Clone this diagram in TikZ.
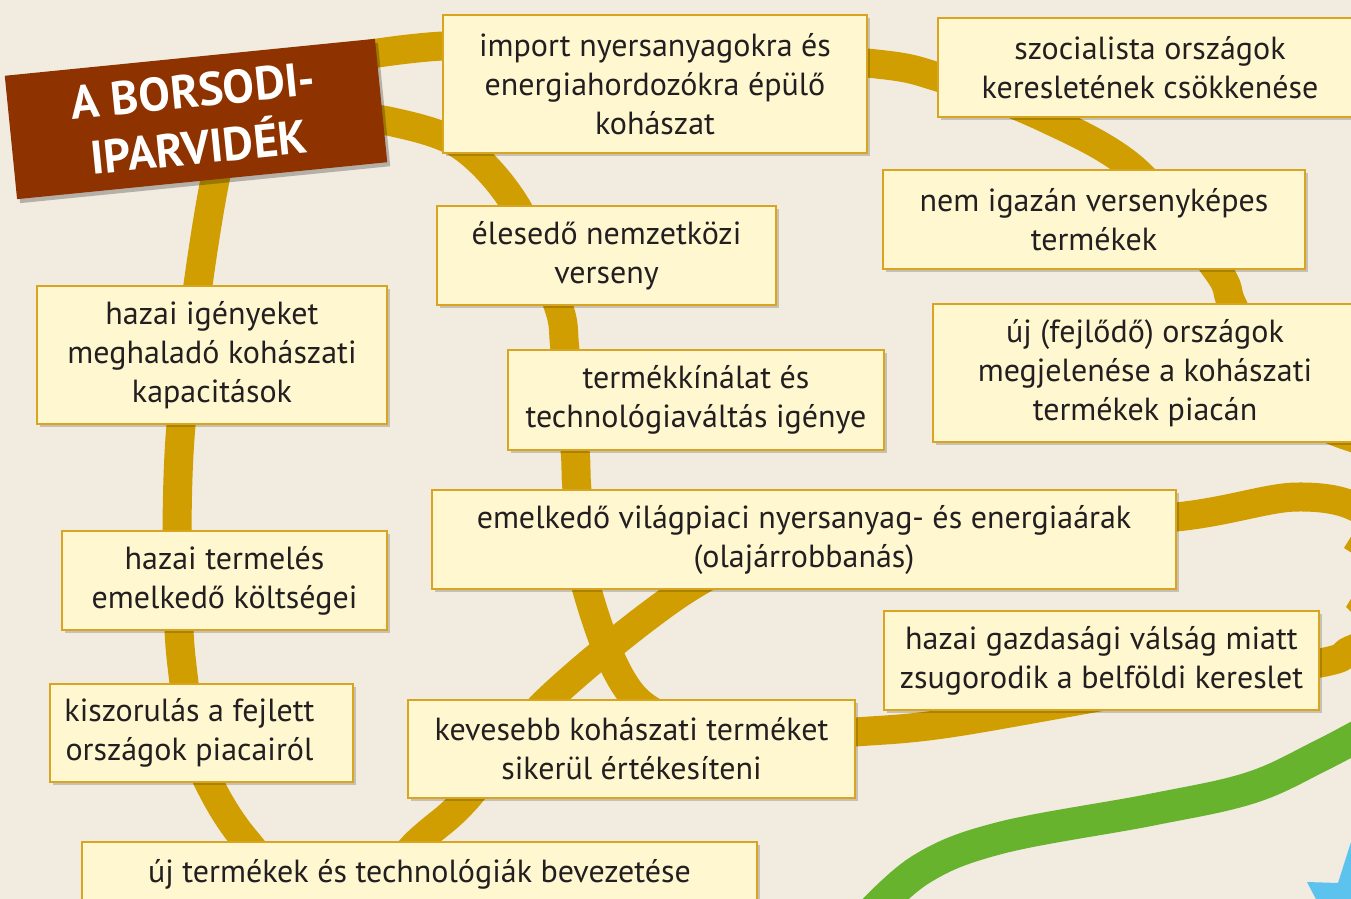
\documentclass[tikz,border=0pt]{standalone}
\usepackage{fontspec}
\setmainfont{PT Sans}
\usetikzlibrary{positioning,shadows}
\definecolor{bgcol}{RGB}{242,235,223}
\definecolor{cardfill}{RGB}{255,247,208}
\definecolor{cardline}{RGB}{217,165,33}
\definecolor{bandcol}{RGB}{208,158,0}
\definecolor{greencol}{RGB}{103,179,46}
\definecolor{bluecol}{RGB}{92,194,238}
\definecolor{titlecol}{RGB}{142,51,0}
\definecolor{inkcol}{RGB}{35,31,32}
\tikzset{dcard/.style={draw=cardline, line width=0.8pt, fill=cardfill, align=center, inner sep=2pt,
  text=inkcol, font=\fontsize{16}{19.5}\selectfont,
  drop shadow={shadow xshift=1.5pt, shadow yshift=-1.5pt, opacity=0.18, fill=black}}}
\tikzset{dband/.style={draw=bandcol, line width=14.5pt}}
\tikzset{dtitle/.style={fill=titlecol, text=white, align=center, minimum width=186pt, minimum height=62pt,
  inner sep=1pt, font=\fontsize{23.5}{28.5}\selectfont\bfseries,
  drop shadow={shadow xshift=1.5pt, shadow yshift=-2pt, opacity=0.25, fill=black}}}
\begin{document}
\begin{tikzpicture}[x=0.5pt, y=-0.5pt]
	\useasboundingbox (0,0) rectangle (1351,899);
	\clip (0,0) rectangle (1351,899);
	\fill[bgcol] (0,0) rectangle (1351,899);
	% ribbons under the cards
	\draw[dband] plot[smooth, tension=0.55] coordinates {(300,66) (443,46) (655,48) (867,63) (938,77)
		(1043,117) (1135,170) (1217,270) (1232,304) (1265,370) (1315,420) (1360,440) (1420,455)};
	\draw[dband] plot[smooth, tension=0.55] coordinates {(330,116) (388,121) (460,145) (516,206) (558,305)
		(565,350) (575,450) (577,490) (587,590) (637,700) (740,738) (855,732) (950,723) (1140,690)
		(1320,663) (1351,650) (1400,630)};
	\draw[dband] plot[smooth, tension=0.55] coordinates {(1410,590) (1368,515) (1297,497) (1176,517)
		(950,532) (780,552) (685,590) (548,700) (465,800) (418,842) (330,925) (247,842) (209,783)
		(190,730) (184,683) (179,630) (177,530) (181,425) (198,285) (215,180) (235,100)};
	\fill[bandcol] (1344,548) -- (1352,535) -- (1352,553) -- cycle;
	\fill[bandcol] (1346,607) -- (1352,597) -- (1352,613) -- cycle;
	\draw[greencol, line width=16pt] plot[smooth, tension=0.6] coordinates {(860,925) (920,870) (1000,838)
		(1150,810) (1250,788) (1320,756) (1380,724)};
	\fill[bluecol] (1360,842) -- (1351,842) -- (1338,883) -- (1307,882) -- (1319,905) -- (1360,905) -- cycle;
	% cards
	\node[dcard, minimum width=212pt, minimum height=69pt] (import) at (655,84)
		{import nyersanyagokra és\\energiahordozókra épülő\\kohászat};
	\node[dcard, minimum width=212pt, minimum height=49.5pt] (szoc) at (1150,67.5)
		{szocialista országok\\keresletének csökkenése};
	\node[dcard, minimum width=211pt, minimum height=49.5pt] (nemverseny) at (1094,219.5)
		{nem igazán versenyképes\\termékek};
	\node[dcard, minimum width=212pt, minimum height=69pt] (ujorszag) at (1145,373)
		{új (fejlődő) országok\\megjelenése a kohászati\\termékek piacán};
	\node[dcard, minimum width=169.5pt, minimum height=49.5pt] (verseny) at (606.5,255.5)
		{élesedő nemzetközi\\verseny};
	\node[dcard, minimum width=175pt, minimum height=69pt] (kapacitas) at (212,355)
		{hazai igényeket\\meghaladó kohászati\\kapacitások};
	\node[dcard, minimum width=188pt, minimum height=50pt] (kinalat) at (696,400)
		{termékkínálat és\\technológiaváltás igénye};
	\node[dcard, minimum width=372pt, minimum height=49.5pt] (arak) at (804,539.5)
		{emelkedő világpiaci nyersanyag- és energiaárak\\(olajárrobbanás)};
	\node[dcard, minimum width=162.5pt, minimum height=49.5pt] (koltseg) at (224.5,580.5)
		{hazai termelés\\emelkedő költségei};
	\node[dcard, minimum width=217.5pt, minimum height=49.5pt] (valsag) at (1101.5,660.5)
		{hazai gazdasági válság miatt\\zsugorodik a belföldi kereslet};
	\node[dcard, minimum width=151.5pt, minimum height=49pt] (kiszorul) at (201.5,733)
		{kiszorulás a fejlett\hspace*{12pt}\\országok piacairól\hspace*{12pt}};
	\node[dcard, minimum width=223.5pt, minimum height=49pt] (kevesebb) at (631.5,749)
		{kevesebb kohászati terméket\\sikerül értékesíteni};
	\node[dcard, minimum width=337.5pt, minimum height=32pt] (ujtermek) at (419.5,874)
		{új termékek és technológiák bevezetése};
	% title
	\node[dtitle, rotate=5.7] (title) at (196,119) {A BORSODI-\\IPARVIDÉK};
\end{tikzpicture}
\end{document}
